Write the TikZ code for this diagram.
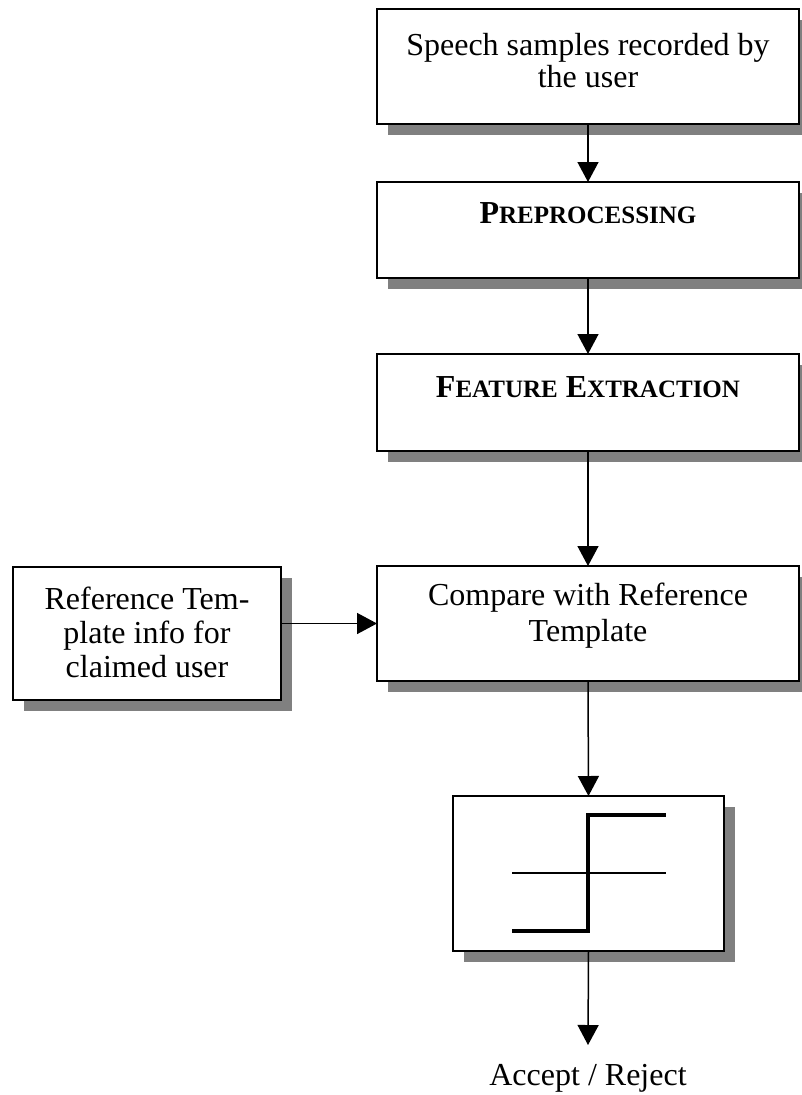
\documentclass[tikz,border=0pt]{standalone}
\usepackage{fontspec}
\setmainfont{Liberation Serif}
\usetikzlibrary{arrows.meta,shadows}

% Word-style small capitals: full-size initial, reduced-size rest
\newcommand{\fakesmallcaps}[2]{{\fontsize{32}{34}\selectfont #1}{\fontsize{25}{30}\selectfont #2}}

\begin{document}
\begin{tikzpicture}[x=1pt,y=-1pt,
  stage/.style={draw=black, line width=1.5pt, fill=white, inner sep=0pt, outer sep=0pt,
    drop shadow={shadow xshift=11pt, shadow yshift=-11pt, opacity=1, fill=black!50}},
  caption/.style={anchor=base, inner sep=0pt, font=\fontsize{32}{34}\selectfont},
  flow/.style={line width=1.5pt, -{Triangle[width=21pt,length=20pt]}}
]
\useasboundingbox (0,0) rectangle (801,1095);

% processing chain
\node[stage, minimum width=422pt, minimum height=115pt] (rec)  at (588,66.5) {};
\node[stage, minimum width=422pt, minimum height=96pt]  (pre)  at (588,230) {};
\node[stage, minimum width=422pt, minimum height=97pt]  (feat) at (588,402.5) {};
\node[stage, minimum width=422pt, minimum height=115pt] (cmp)  at (588,623.5) {};
\node[stage, minimum width=268pt, minimum height=133pt] (ref)  at (147,633.5) {};
\node[stage, minimum width=271pt, minimum height=155pt] (dec)  at (588.5,873.5) {};

% box texts
\node[caption] (recA) at (588,55)  {Speech samples recorded by};
\node[caption] (recB) at (588,87)  {the user};
\node[caption, font=\bfseries] (preT) at (588,223) {\bfseries\fakesmallcaps{P}{REPROCESSING}};
\node[caption] (featT) at (588,397) {\bfseries\fakesmallcaps{F}{EATURE} \fakesmallcaps{E}{XTRACTION}};
\node[caption] (cmpA) at (588,605) {Compare with Reference};
\node[caption] (cmpB) at (588,641) {Template};
\node[caption] (refA) at (147,609) {Reference Tem-};
\node[caption] (refB) at (147,643) {plate info for};
\node[caption] (refC) at (147,677) {claimed user};

% threshold (step) characteristic inside the decision box
\draw[line width=1.5pt] (512,873) -- (666,873);
\draw[line width=4pt, line join=miter] (512,931) -- (588,931) -- (588,815) -- (666,815);

% output
\coordinate (out) at (588,1045);
\node[caption] (outT) at (588,1085) {Accept / Reject};

% connectors
\draw[flow] (rec.south) -- (pre.north);
\draw[flow] (pre.south) -- (feat.north);
\draw[flow] (feat.south) -- (cmp.north);
\draw[flow] (cmp.west -| ref.east) -- (cmp.west);
\draw[flow] (cmp.south) -- (dec.north);
\draw[flow] (dec.south) -- (out);
\end{tikzpicture}
\end{document}
